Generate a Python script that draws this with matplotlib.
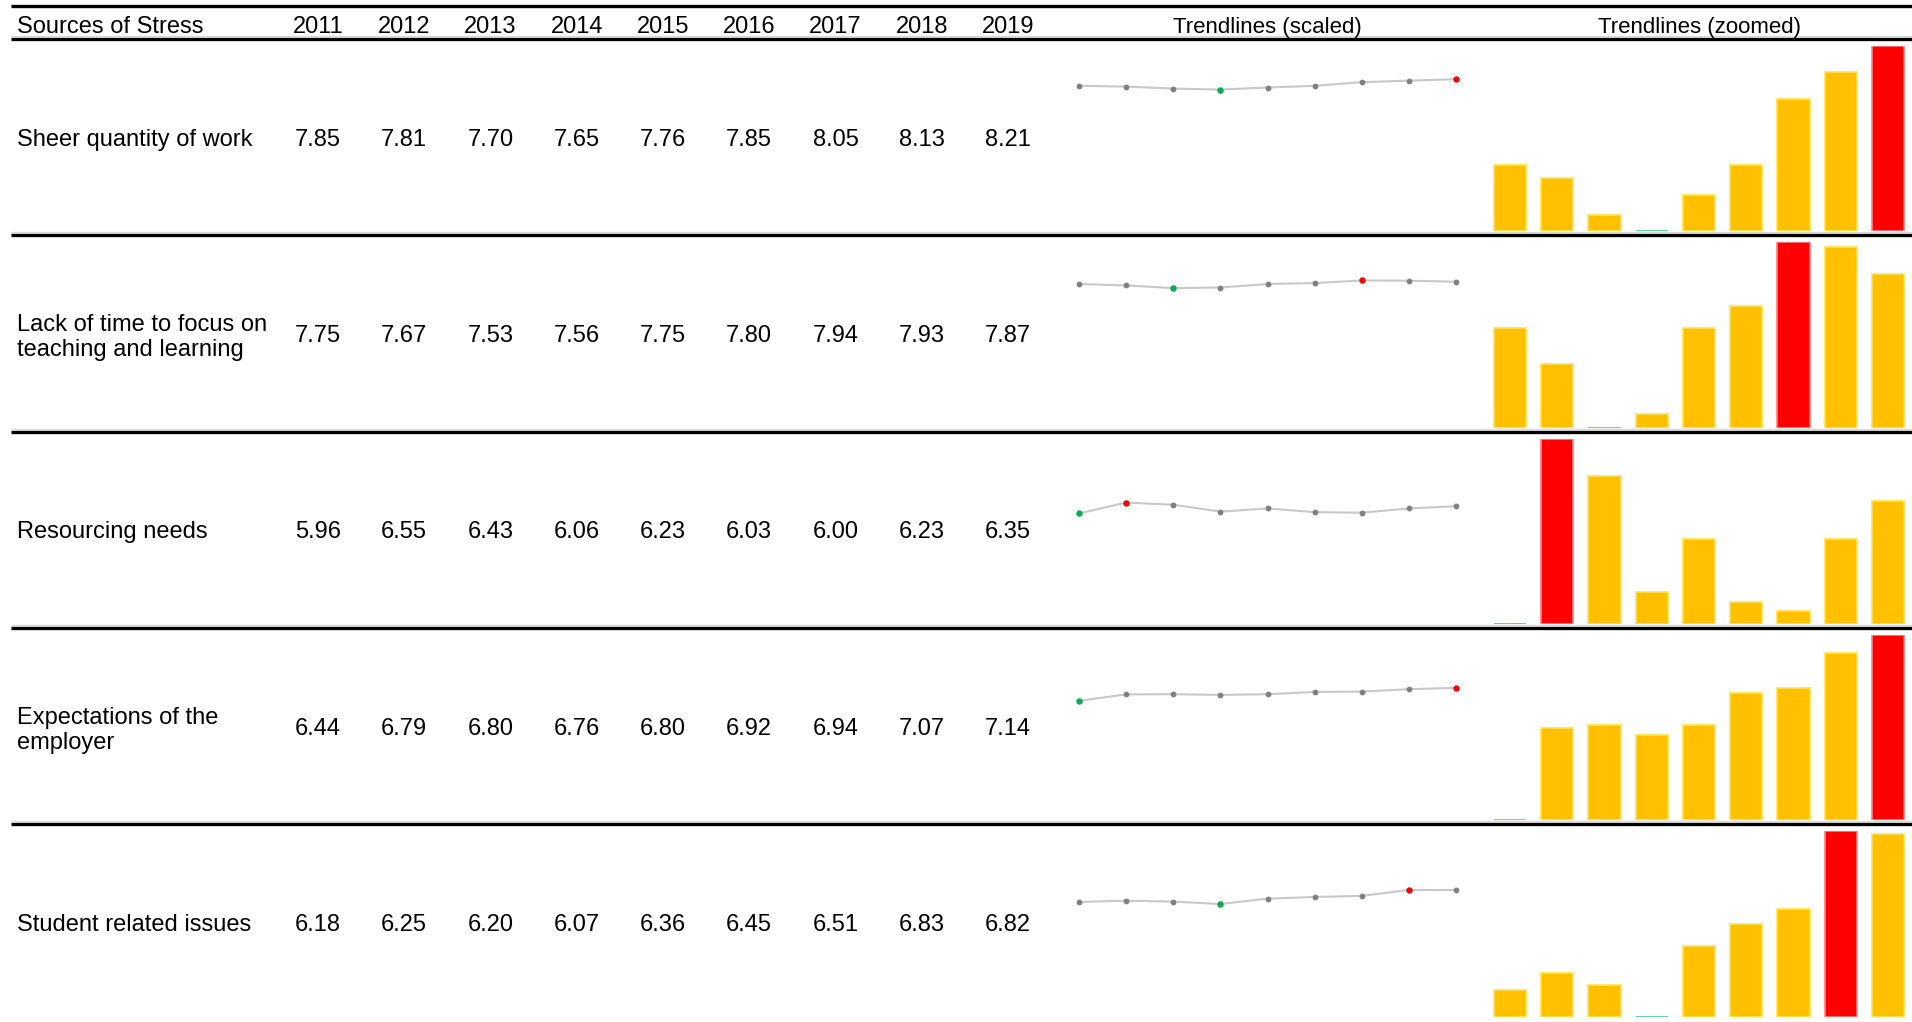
import matplotlib.pyplot as plt

YEARS = ['2011', '2012', '2013', '2014', '2015', '2016', '2017', '2018', '2019']
SOURCES = [
    'Sheer quantity of work',
    'Lack of time to focus on\nteaching and learning',
    'Resourcing needs',
    'Expectations of the\nemployer',
    'Student related issues',
]
SHEER_QUANTITY = [7.85, 7.81, 7.70, 7.65, 7.76, 7.85, 8.05, 8.13, 8.21]
LACK_OF_TIME = [7.75, 7.67, 7.53, 7.56, 7.75, 7.80, 7.94, 7.93, 7.87]
RESOURCING = [5.96, 6.55, 6.43, 6.06, 6.23, 6.03, 6.00, 6.23, 6.35]
EXPECTATIONS = [6.44, 6.79, 6.80, 6.76, 6.80, 6.92, 6.94, 7.07, 7.14]
STUDENT_ISSUES = [6.18, 6.25, 6.20, 6.07, 6.36, 6.45, 6.51, 6.83, 6.82]

ROWS = [SHEER_QUANTITY, LACK_OF_TIME, RESOURCING, EXPECTATIONS, STUDENT_ISSUES]


def main():
    plt.rcParams['font.family'] = ['Liberation Sans', 'DejaVu Sans']

    # layout is worked out in pixels, then turned into figure fractions
    W, H = 1912, 1022
    fig = plt.figure(figsize=(W / 100, H / 100), dpi=100)

    def frac(x0, y0, x1, y1):
        return [x0 / W, 1 - y1 / H, (x1 - x0) / W, (y1 - y0) / H]

    bg = fig.add_axes([0, 0, 1, 1])
    bg.set_xlim(0, W)
    bg.set_ylim(H, 0)
    bg.axis('off')

    HEADER_TOP = 6
    HEADER_BOTTOM = 39
    ROW_H = 196.3
    COL_X = [318 + 86.25 * i for i in range(len(YEARS))]
    FS = 17

    YELLOW = '#FFC000'
    RED = '#FF0000'
    GREEN = '#00B050'

    # header rules
    bg.hlines(HEADER_TOP, 11, W, color='black', lw=2.4)
    bg.hlines(HEADER_BOTTOM - 3, 11, W, color='#d9d9d9', lw=1)
    bg.hlines(HEADER_BOTTOM, 11, W, color='black', lw=2.4)

    bg.text(17, 33, 'Sources of Stress', fontsize=FS, va='baseline', ha='left')
    for x, yr in zip(COL_X, YEARS):
        bg.text(x, 33, yr, fontsize=FS, va='baseline', ha='center')
    bg.text(1267, 33, 'Trendlines (scaled)', fontsize=16, va='baseline', ha='center')
    bg.text(1700, 33, 'Trendlines (zoomed)', fontsize=16, va='baseline', ha='center')

    for r, (label, vals) in enumerate(zip(SOURCES, ROWS)):
        top = HEADER_BOTTOM + ROW_H * r
        bottom = top + ROW_H
        mid = (top + bottom) / 2

        if r < len(ROWS) - 1:
            bg.hlines(bottom - 3, 11, W, color='#d9d9d9', lw=1)
            bg.hlines(bottom, 11, W, color='black', lw=2.4)

        if '\n' in label:
            bg.text(17, mid + 23, label, fontsize=FS, va='baseline', ha='left',
                    linespacing=1.2)
        else:
            bg.text(17, mid + 8.5, label, fontsize=FS, va='baseline', ha='left')
        for x, v in zip(COL_X, vals):
            bg.text(x, mid + 8.5, f'{v:.2f}', fontsize=FS, va='baseline', ha='center')

        lo, hi = min(vals), max(vals)
        i_lo, i_hi = vals.index(lo), vals.index(hi)
        xs = list(range(len(vals)))

        # sparkline on a fixed 0-10 scale
        ax = fig.add_axes(frac(1079 - 0.4 * 47.2, top + 7, 1456 + 0.4 * 47.2, bottom - 4))
        ax.plot(xs, vals, color='#c8c8c8', lw=1.5, zorder=1)
        ax.scatter(xs, vals, s=10, color='#808080', zorder=2)
        ax.scatter([i_lo], [lo], s=12, color=GREEN, zorder=3)
        ax.scatter([i_hi], [hi], s=12, color=RED, zorder=3)
        ax.set_xlim(-0.4, 8.4)
        ax.set_ylim(0, 10)
        ax.axis('off')

        # bars zoomed to the row's own min..max
        ax = fig.add_axes(frac(1510 - 0.5 * 47.25, top + 7, 1888 + 0.5 * 47.25, bottom - 4))
        colors = [YELLOW] * len(vals)
        edges = ['#FFE34D'] * len(vals)
        colors[i_hi] = RED
        edges[i_hi] = '#FF8080'
        colors[i_lo] = GREEN
        edges[i_lo] = '#3DD47F'
        ax.bar(xs, [v - lo for v in vals], bottom=lo, width=0.68,
               color=colors, edgecolor=edges, linewidth=1.2)
        ax.set_xlim(-0.5, 8.5)
        ax.set_ylim(lo, hi)
        ax.axis('off')

    fig.savefig('out.png', dpi=100)


if __name__ == '__main__':
    main()
